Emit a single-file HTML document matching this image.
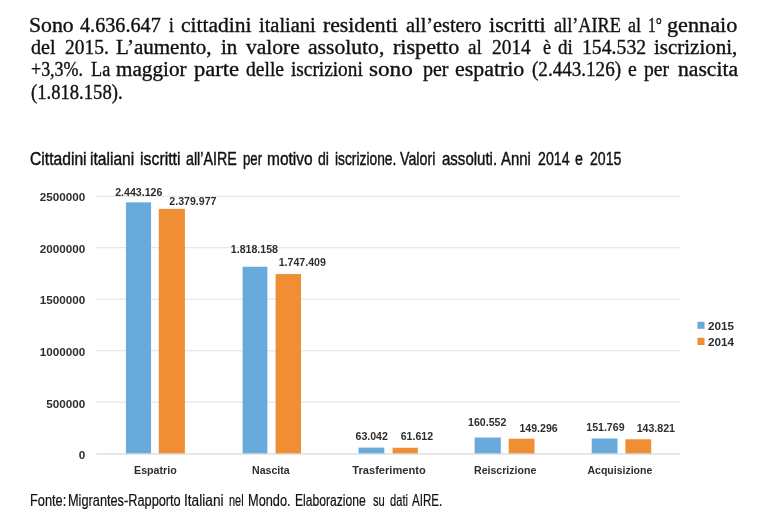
<!DOCTYPE html>
<html><head><meta charset="utf-8">
<style>
html,body{margin:0;padding:0;background:#fff;}
body{width:760px;height:524px;position:relative;overflow:hidden;font-family:"Liberation Sans",sans-serif;}
.w{position:absolute;font-family:"Liberation Serif",serif;font-size:20px;line-height:22px;height:22px;color:#111;white-space:nowrap;transform-origin:0 0;-webkit-text-stroke:0.35px #111;}
.w.tt{font-family:"Liberation Sans",sans-serif;font-size:17.7px;line-height:20px;height:20px;-webkit-text-stroke:0.42px #111;}
.w.ft{font-family:"Liberation Sans",sans-serif;font-size:15.8px;line-height:18px;height:18px;-webkit-text-stroke:0.2px #111;}
svg{position:absolute;left:0;top:0;}
.t{position:absolute;font-size:11.7px;font-weight:bold;color:#2e2e2e;white-space:nowrap;line-height:12px;height:12px;}
.y{text-align:right;width:60px;left:25.2px;}
.v{font-size:10.6px;transform:translateX(-50%);}
.c{font-size:10.6px;transform:translateX(-50%);}
</style></head><body>
<span class="w" style="left:29.04px;top:14.0px;transform:scaleX(1.0850)">Sono</span>
<span class="w" style="left:80.09px;top:14.0px;transform:scaleX(1.0096)">4.636.647</span>
<span class="w" style="left:168.59px;top:14.0px;transform:scaleX(0.8575)">i</span>
<span class="w" style="left:180.59px;top:14.0px;transform:scaleX(1.0759)">cittadini</span>
<span class="w" style="left:258.59px;top:14.0px;transform:scaleX(1.0220)">italiani</span>
<span class="w" style="left:323.09px;top:14.0px;transform:scaleX(1.0856)">residenti</span>
<span class="w" style="left:405.59px;top:14.0px;transform:scaleX(1.0150)">all’estero</span>
<span class="w" style="left:489.34px;top:14.0px;transform:scaleX(1.1108)">iscritti</span>
<span class="w" style="left:554.34px;top:14.0px;transform:scaleX(0.9114)">all’AIRE</span>
<span class="w" style="left:628.09px;top:14.0px;transform:scaleX(0.9018)">al</span>
<span class="w" style="left:648.04px;top:14.0px;transform:scaleX(0.7706)">1°</span>
<span class="w" style="left:667.29px;top:14.0px;transform:scaleX(1.1115)">gennaio</span>
<span class="w" style="left:30.64px;top:36.2px;transform:scaleX(1.0034)">del</span>
<span class="w" style="left:64.64px;top:36.2px;transform:scaleX(0.9738)">2015.</span>
<span class="w" style="left:115.59px;top:36.2px;transform:scaleX(1.0511)">L’aumento,</span>
<span class="w" style="left:220.59px;top:36.2px;transform:scaleX(1.0455)">in</span>
<span class="w" style="left:245.59px;top:36.2px;transform:scaleX(1.0757)">valore</span>
<span class="w" style="left:308.09px;top:36.2px;transform:scaleX(1.0816)">assoluto,</span>
<span class="w" style="left:393.09px;top:36.2px;transform:scaleX(1.1053)">rispetto</span>
<span class="w" style="left:468.09px;top:36.2px;transform:scaleX(0.9538)">al</span>
<span class="w" style="left:492.34px;top:36.2px;transform:scaleX(0.9692)">2014</span>
<span class="w" style="left:542.64px;top:36.2px;transform:scaleX(0.9021)">è</span>
<span class="w" style="left:558.09px;top:36.2px;transform:scaleX(0.9491)">di</span>
<span class="w" style="left:581.54px;top:36.2px;transform:scaleX(0.9865)">154.532</span>
<span class="w" style="left:654.34px;top:36.2px;transform:scaleX(1.0489)">iscrizioni,</span>
<span class="w" style="left:30.64px;top:58.4px;transform:scaleX(0.8985)">+3,3%.</span>
<span class="w" style="left:90.59px;top:58.4px;transform:scaleX(0.9135)">La</span>
<span class="w" style="left:116.34px;top:58.4px;transform:scaleX(1.0580)">maggior</span>
<span class="w" style="left:194.34px;top:58.4px;transform:scaleX(1.1272)">parte</span>
<span class="w" style="left:245.59px;top:58.4px;transform:scaleX(0.9780)">delle</span>
<span class="w" style="left:290.59px;top:58.4px;transform:scaleX(0.9642)">iscrizioni</span>
<span class="w" style="left:369.34px;top:58.4px;transform:scaleX(1.1594)">sono</span>
<span class="w" style="left:422.64px;top:58.4px;transform:scaleX(0.9989)">per</span>
<span class="w" style="left:455.09px;top:58.4px;transform:scaleX(1.0949)">espatrio</span>
<span class="w" style="left:532.34px;top:58.4px;transform:scaleX(0.9544)">(2.443.126)</span>
<span class="w" style="left:628.09px;top:58.4px;transform:scaleX(0.9864)">e</span>
<span class="w" style="left:644.34px;top:58.4px;transform:scaleX(0.9794)">per</span>
<span class="w" style="left:677.64px;top:58.4px;transform:scaleX(1.0808)">nascita</span>
<span class="w" style="left:30.64px;top:80.6px;transform:scaleX(0.9313)">(1.818.158).</span>
<span class="w tt" style="left:30.30px;top:148.6px;transform:scaleX(0.8852)">Cittadini</span>
<span class="w tt" style="left:90.00px;top:148.6px;transform:scaleX(0.8812)">italiani</span>
<span class="w tt" style="left:139.50px;top:148.6px;transform:scaleX(0.8968)">iscritti</span>
<span class="w tt" style="left:185.55px;top:148.6px;transform:scaleX(0.8062)">all’AIRE</span>
<span class="w tt" style="left:242.72px;top:148.6px;transform:scaleX(0.7467)">per</span>
<span class="w tt" style="left:266.92px;top:148.6px;transform:scaleX(0.8770)">motivo</span>
<span class="w tt" style="left:317.72px;top:148.6px;transform:scaleX(0.7967)">di</span>
<span class="w tt" style="left:334.68px;top:148.6px;transform:scaleX(0.7797)">iscrizione.</span>
<span class="w tt" style="left:400.30px;top:148.6px;transform:scaleX(0.8051)">Valori</span>
<span class="w tt" style="left:441.76px;top:148.6px;transform:scaleX(0.8493)">assoluti.</span>
<span class="w tt" style="left:501.30px;top:148.6px;transform:scaleX(0.8422)">Anni</span>
<span class="w tt" style="left:538.18px;top:148.6px;transform:scaleX(0.8008)">2014</span>
<span class="w tt" style="left:575.30px;top:148.6px;transform:scaleX(0.8066)">e</span>
<span class="w tt" style="left:589.64px;top:148.6px;transform:scaleX(0.7968)">2015</span>

<div id="chart" style="position:absolute;left:0;top:0;width:760px;height:524px;filter:blur(0.45px)">
<svg width="760" height="524" viewBox="0 0 760 524"><rect x="96.4" y="401.45" width="583.6" height="1.3" fill="#e8e8e8"/><rect x="96.4" y="350.05" width="583.6" height="1.3" fill="#e8e8e8"/><rect x="96.4" y="298.55" width="583.6" height="1.3" fill="#e8e8e8"/><rect x="96.4" y="246.95" width="583.6" height="1.3" fill="#e8e8e8"/><rect x="96.4" y="195.75" width="583.6" height="1.3" fill="#e8e8e8"/><rect x="125.90" y="202.36" width="25.15" height="251.74" fill="#69aadd"/><rect x="158.80" y="208.87" width="26.10" height="245.23" fill="#f08e33"/><rect x="242.60" y="266.76" width="24.80" height="187.34" fill="#69aadd"/><rect x="275.60" y="274.05" width="25.40" height="180.05" fill="#f08e33"/><rect x="358.55" y="447.60" width="25.75" height="6.50" fill="#69aadd"/><rect x="392.60" y="447.75" width="25.30" height="6.35" fill="#f08e33"/><rect x="474.60" y="437.56" width="26.20" height="16.54" fill="#69aadd"/><rect x="508.70" y="438.72" width="25.80" height="15.38" fill="#f08e33"/><rect x="591.70" y="438.46" width="25.80" height="15.64" fill="#69aadd"/><rect x="625.40" y="439.28" width="25.80" height="14.82" fill="#f08e33"/><rect x="96.4" y="453.25" width="583.6" height="1.4" fill="#dcdcdc"/><rect x="697.5" y="321.8" width="7" height="7" fill="#69aadd"/><rect x="697.5" y="337.8" width="7" height="7.2" fill="#f08e33"/></svg>
<div class="t y" style="top:449.2px">0</div>
<div class="t y" style="top:397.6px">500000</div>
<div class="t y" style="top:345.9px">1000000</div>
<div class="t y" style="top:294.3px">1500000</div>
<div class="t y" style="top:242.6px">2000000</div>
<div class="t y" style="top:191.0px">2500000</div>
<div class="t v" style="left:138.8px;top:185.8px">2.443.126</div>
<div class="t v" style="left:192.9px;top:194.7px">2.379.977</div>
<div class="t v" style="left:254.4px;top:243.4px">1.818.158</div>
<div class="t v" style="left:302.3px;top:256.0px">1.747.409</div>
<div class="t v" style="left:371.7px;top:430.1px">63.042</div>
<div class="t v" style="left:416.9px;top:430.1px">61.612</div>
<div class="t v" style="left:487.2px;top:415.9px">160.552</div>
<div class="t v" style="left:538.6px;top:422.3px">149.296</div>
<div class="t v" style="left:605.4px;top:420.9px">151.769</div>
<div class="t v" style="left:655.8px;top:422.3px">143.821</div>
<div class="t c" style="left:155.4px;top:464.2px;font-size:10.7px">Espatrio</div>
<div class="t c" style="left:270.9px;top:464.2px;font-size:10.6px">Nascita</div>
<div class="t c" style="left:389px;top:464.2px;font-size:11.1px">Trasferimento</div>
<div class="t c" style="left:505.2px;top:464.2px;font-size:10.6px">Reiscrizione</div>
<div class="t c" style="left:619.9px;top:464.2px;font-size:10.5px">Acquisizione</div>
<div class="t" style="left:708px;top:320px">2015</div>
<div class="t" style="left:708px;top:336px">2014</div>
</div>
<span class="w ft" style="left:29.50px;top:492.2px;transform:scaleX(0.8101)">Fonte:</span>
<span class="w ft" style="left:67.54px;top:492.2px;transform:scaleX(0.8073)">Migrantes-Rapporto</span>
<span class="w ft" style="left:183.96px;top:492.2px;transform:scaleX(0.8666)">Italiani</span>
<span class="w ft" style="left:228.64px;top:492.2px;transform:scaleX(0.6945)">nel</span>
<span class="w ft" style="left:248.04px;top:492.2px;transform:scaleX(0.8087)">Mondo.</span>
<span class="w ft" style="left:295.08px;top:492.2px;transform:scaleX(0.7671)">Elaborazione</span>
<span class="w ft" style="left:372.64px;top:492.2px;transform:scaleX(0.7107)">su</span>
<span class="w ft" style="left:389.72px;top:492.2px;transform:scaleX(0.7055)">dati</span>
<span class="w ft" style="left:412.34px;top:492.2px;transform:scaleX(0.7348)">AIRE.</span>
</body></html>
